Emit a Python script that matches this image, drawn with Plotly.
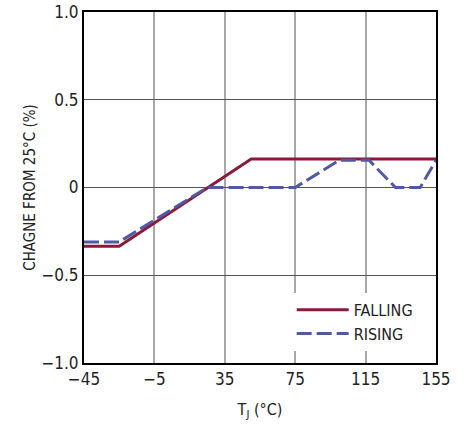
import plotly.graph_objects as go

# Data
falling_x = [-45, -25, 50, 155]
falling_y = [-0.335, -0.335, 0.163, 0.163]
rising_x = [-45, -25, 25, 75, 100, 117, 132, 146, 155]
rising_y = [-0.31, -0.31, 0.0, 0.0, 0.155, 0.155, 0.0, 0.0, 0.155]
x_ticks = [-45, -5, 35, 75, 115, 155]
y_ticks = [-1.0, -0.5, 0, 0.5, 1.0]
y_tick_text = ["\u22121.0", "\u22120.5", "0", "0.5", "1.0"]
x_tick_text = ["\u221245", "\u22125", "35", "75", "115", "155"]

FONT = "DejaVu Sans Condensed, Liberation Sans Narrow, sans-serif"

fig = go.Figure()
fig.add_trace(go.Scatter(x=falling_x, y=falling_y, mode="lines", name="FALLING",
                         line=dict(color="#8a1a38", width=3)))
fig.add_trace(go.Scatter(x=rising_x, y=rising_y, mode="lines", name="RISING",
                         line=dict(color="#5059a3", width=3, dash="15px,5px")))

fig.update_layout(
    width=466, height=425,
    margin=dict(l=84, r=30, t=12, b=62, autoexpand=False),
    paper_bgcolor="white", plot_bgcolor="white",
    font=dict(family=FONT, size=16, color="#222"),
    showlegend=True,
    legend=dict(x=0.59, y=0.2, xanchor="left", yanchor="top",
                bgcolor="white", borderwidth=0,
                font=dict(size=16, family=FONT, color="#222"),
                tracegroupgap=0, itemwidth=52),
    xaxis=dict(range=[-45, 155], tickvals=x_ticks, ticktext=x_tick_text,
               showgrid=True, gridcolor="#a8a8a8", gridwidth=1.5,
               showline=True, linecolor="black", linewidth=2, mirror=True,
               zeroline=False, ticks="", tickfont=dict(size=17), automargin=False,
               title=dict(text="T<sub>J</sub> (\u00b0C)", font=dict(size=16), standoff=15)),
    yaxis=dict(range=[-1.0, 1.0], tickvals=y_ticks, ticktext=y_tick_text,
               showgrid=True, gridcolor="#555555", gridwidth=1,
               showline=True, linecolor="black", linewidth=2, mirror=True,
               zeroline=False, ticks="", tickfont=dict(size=17), automargin=False,
               title=dict(text="CHAGNE FROM 25\u00b0C (%)", font=dict(size=15), standoff=2)),
)

fig.write_html("out.html")
